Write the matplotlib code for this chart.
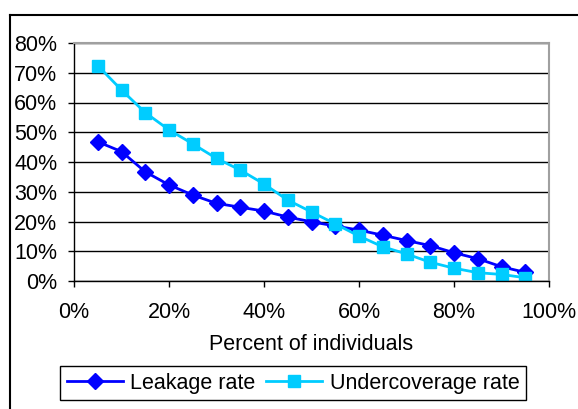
import matplotlib
matplotlib.use("Agg")
import matplotlib.pyplot as plt
from matplotlib.lines import Line2D
from matplotlib.ticker import PercentFormatter

# percent of individuals (x) and the two rates
pct_individuals = [5, 10, 15, 20, 25, 30, 35, 40, 45, 50,
                   55, 60, 65, 70, 75, 80, 85, 90, 95]
leakage_rate = [46.8, 43.5, 36.7, 32.3, 28.9, 26.1, 24.8, 23.5, 21.5, 19.9,
                18.5, 17.1, 15.4, 13.6, 11.9, 9.5, 7.5, 4.8, 2.9]
undercoverage_rate = [72.4, 64.2, 56.6, 50.8, 46.1, 41.2, 37.3, 32.6, 27.2, 23.2,
                      19.2, 15.1, 11.5, 9.1, 6.3, 4.3, 2.8, 2.2, 1.1]

plt.rcParams["font.family"] = ["Liberation Sans", "DejaVu Sans"]
FS = 15.5

W, H = 578, 409
fig = plt.figure(figsize=(W / 100, H / 100), dpi=100)
ax = fig.add_axes([74 / W, 1 - 281 / H, (549 - 74) / W, (281 - 43) / H])

ax.plot(pct_individuals, leakage_rate, color="#0000FF", lw=2,
        marker="D", markersize=8.5, label="Leakage rate")
ax.plot(pct_individuals, undercoverage_rate, color="#00CCFF", lw=2,
        marker="s", markersize=8, label="Undercoverage rate")

ax.set_xlim(0, 100)
ax.set_ylim(0, 80)
ax.set_xticks(range(0, 101, 20))
ax.set_yticks(range(0, 81, 10))
ax.xaxis.set_major_formatter(PercentFormatter(decimals=0))
ax.yaxis.set_major_formatter(PercentFormatter(decimals=0))
ax.grid(axis="y", color="black", lw=1)
ax.set_axisbelow(True)

for side in ("top", "right"):
    ax.spines[side].set_color("#a0a0a0")
    ax.spines[side].set_linewidth(1.5)
for side in ("left", "bottom"):
    ax.spines[side].set_color("black")
    ax.spines[side].set_linewidth(1)

ax.tick_params(axis="both", direction="out", length=4, width=1,
               labelsize=FS, color="black")
ax.tick_params(axis="x", pad=11)
ax.tick_params(axis="y", pad=8)
ax.set_xlabel("Percent of individuals", fontsize=FS, labelpad=8)

leg = fig.legend(loc="center", bbox_to_anchor=(293 / W, 1 - 383 / H), ncol=2,
                 fontsize=FS, frameon=True, fancybox=False, edgecolor="black",
                 framealpha=1, handlelength=2.6, columnspacing=0.5,
                 handletextpad=0.35, borderpad=0.3)
leg.get_frame().set_linewidth(1)

# outer chart frame (only left and top edges visible in the crop)
fig.add_artist(Line2D([10 / W, 10 / W], [0, 1 - 15 / H], color="black", lw=1.5))
fig.add_artist(Line2D([10 / W, 1], [1 - 15 / H, 1 - 15 / H], color="black", lw=1.5))

fig.savefig("out.png", dpi=100)
